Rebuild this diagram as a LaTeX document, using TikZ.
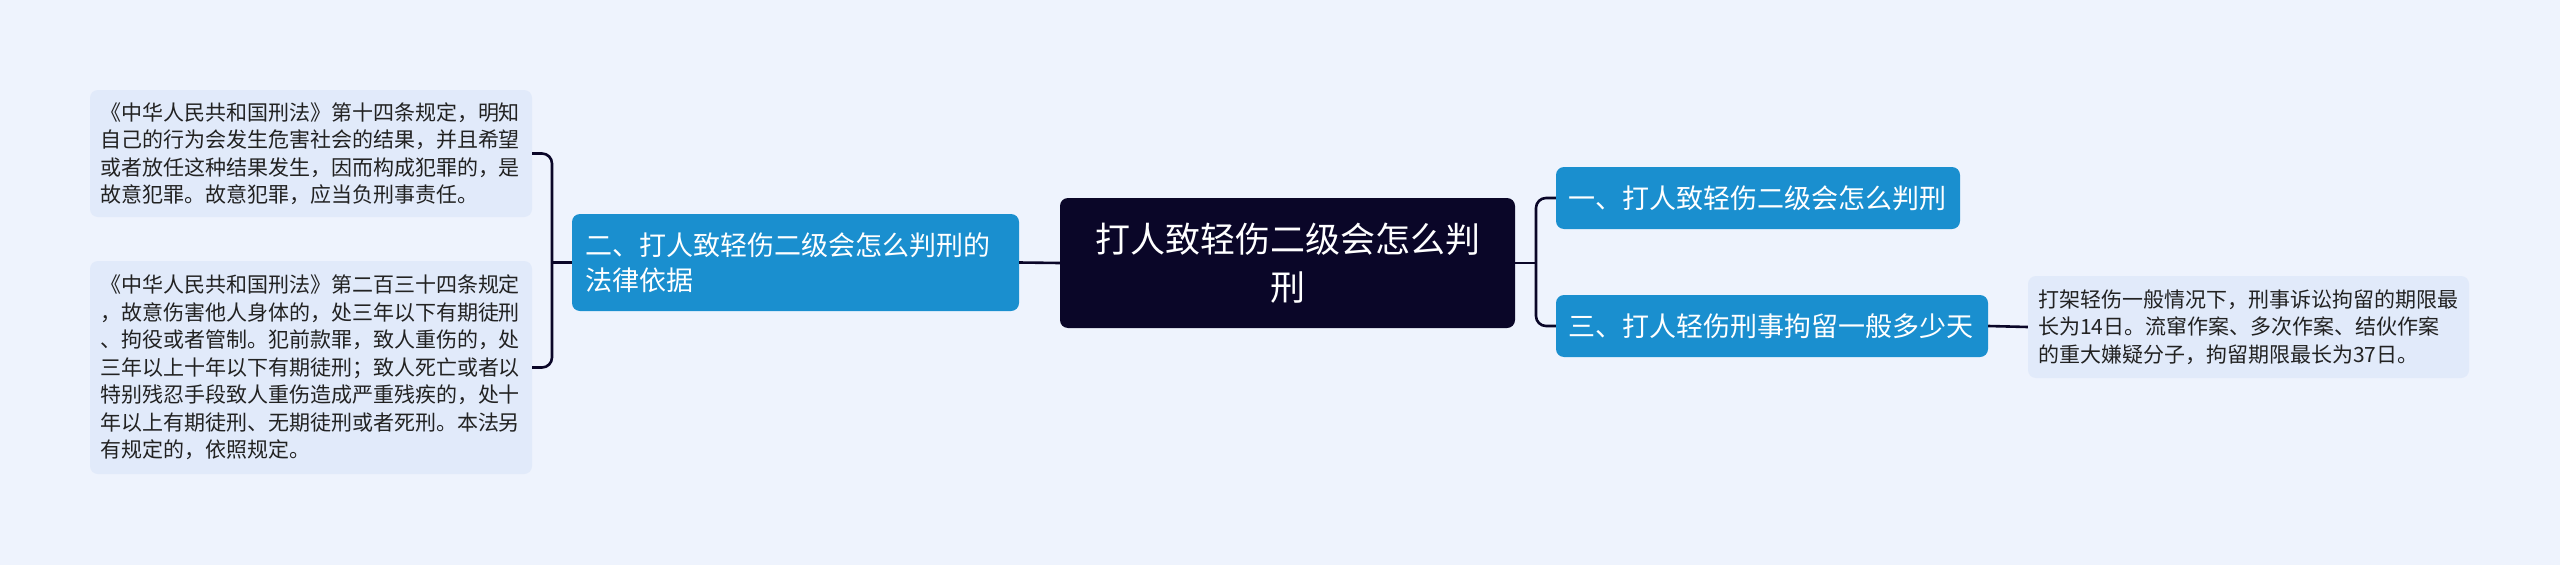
\documentclass[tikz,border=0pt]{standalone}
\usepackage{fontspec}
\setmainfont{Noto Sans CJK SC}
\definecolor{bg}{HTML}{EEF3FD}
\definecolor{leafbg}{HTML}{E1EAFA}
\definecolor{midblue}{HTML}{1A8FCF}
\definecolor{navy}{HTML}{0A0628}
\definecolor{leaftext}{HTML}{222222}
\tikzset{
  leafbox/.style={fill=leafbg, rounded corners=8pt, inner sep=0pt, text=leaftext,
    font=\fontsize{21}{27.5}\selectfont, align=left},
  midbox/.style={fill=midblue, rounded corners=8pt, inner sep=0pt, text=white,
    font=\fontsize{27}{35}\selectfont, align=left},
  rootbox/.style={fill=navy, rounded corners=8pt, inner sep=0pt, text=white,
    font=\fontsize{35}{48}\selectfont, align=center},
  conn/.style={draw=navy, line width=2.6pt, rounded corners=10pt},
}
\begin{document}
\begin{tikzpicture}[x=1pt,y=-1pt]
\useasboundingbox (0,0) rectangle (2560,565);
\fill[bg] (0,0) rectangle (2560,565);

% root
\node[rootbox, minimum width=455pt, minimum height=130pt] (c) at (1287.5,263)
  {打人致轻伤二级会怎么判\\刑};

% level 1
\node[midbox, minimum width=447pt, minimum height=97pt, text width=421pt] (a2) at (795.5,262.5)
  {二、打人致轻伤二级会怎么判刑的\\法律依据};
\node[midbox, minimum width=404pt, minimum height=62pt, text width=380pt] (a1) at (1758,198)
  {一、打人致轻伤二级会怎么判刑};
\node[midbox, minimum width=432pt, minimum height=62pt, text width=408pt] (a3) at (1772,326)
  {三、打人轻伤刑事拘留一般多少天};

% leaves
\node[leafbox, minimum width=442pt, minimum height=127pt, text width=422pt] (l1) at (311,153.5)
  {《中华人民共和国刑法》第十四条规定，明知\\自己的行为会发生危害社会的结果，并且希望\\或者放任这种结果发生，因而构成犯罪的，是\\故意犯罪。故意犯罪，应当负刑事责任。};
\node[leafbox, minimum width=442pt, minimum height=213pt, text width=422pt] (l2) at (311,367.5)
  {《中华人民共和国刑法》第二百三十四条规定\\，故意伤害他人身体的，处三年以下有期徒刑\\、拘役或者管制。犯前款罪，致人重伤的，处\\三年以上十年以下有期徒刑；致人死亡或者以\\特别残忍手段致人重伤造成严重残疾的，处十\\年以上有期徒刑、无期徒刑或者死刑。本法另\\有规定的，依照规定。};
\node[leafbox, minimum width=441pt, minimum height=102pt, text width=421pt] (l3) at (2248.5,327)
  {打架轻伤一般情况下，刑事诉讼拘留的期限最\\长为14日。流窜作案、多次作案、结伙作案\\的重大嫌疑分子，拘留期限最长为37日。};

% connectors
\coordinate (lj) at (552,262.5);
\coordinate (rj) at (1536,263);
\draw[conn] (a2.west) -- (lj);
\draw[conn] (l1.east) -| (lj) |- (l2.east);
\draw[conn] (a2.east) -- (c.west);
\draw[conn] (c.east) -- (rj);
\draw[conn] (a1.west) -| (rj) |- (a3.west);
\draw[conn] (a3.east) -- (l3.west);
\end{tikzpicture}
\end{document}
